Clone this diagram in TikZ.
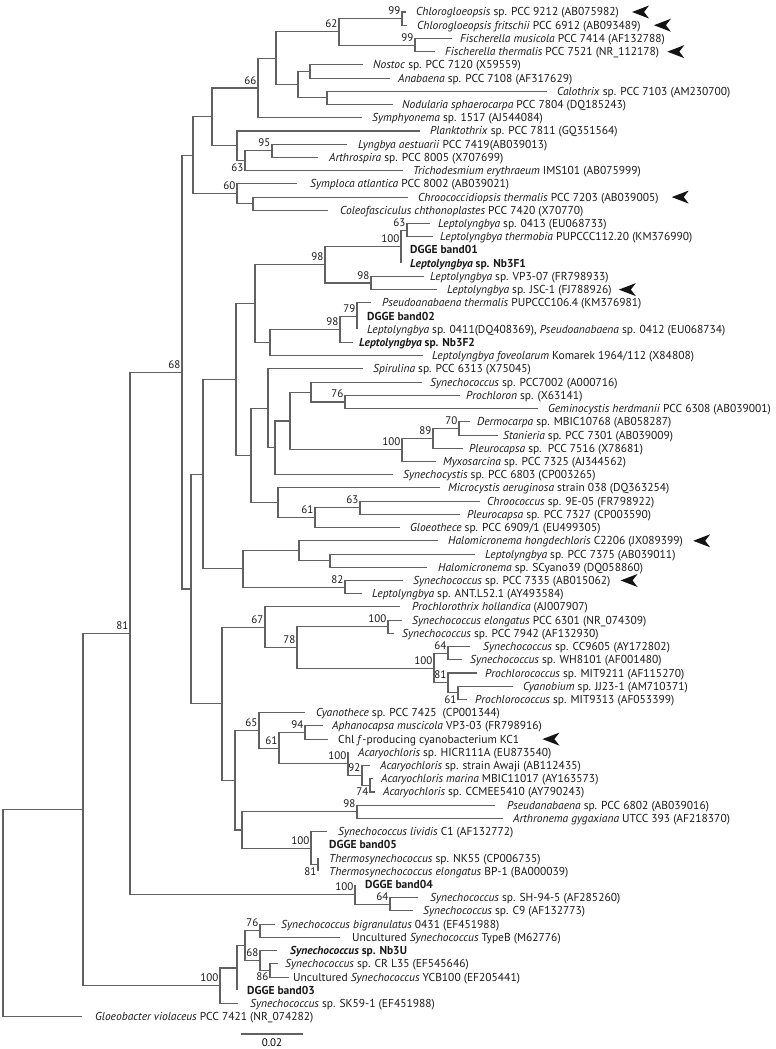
\documentclass[tikz,border=0pt]{standalone}
\usepackage{fontspec}
\setmainfont{PT Sans}
\newcommand{\yy}[1]{12+13.22*(#1-1)}
\tikzset{
  br/.style={draw=black!62, line width=1.05pt},
  leaf/.style={anchor=west, inner sep=0pt, text height=8pt, text depth=0pt, font=\fontsize{11.5}{13}\selectfont, text=black!90},
  bsl/.style={anchor=base east, inner sep=0pt, font=\fontsize{11}{12}\selectfont, text=black!90},
  bsb/.style={anchor=north east, inner sep=0pt, font=\fontsize{11}{12}\selectfont, text=black!90},
  arrowmk/.style={fill=black!92},
}
\newcommand{\nd}[3]{\coordinate (#1) at (#2,{\yy{#3}});}
\newcommand{\lf}[5]{\coordinate (t#1) at (#2,{\yy{#1}});
  \node[leaf] (L#1) at (#3,{\yy{#1}}) {#5};
  \draw[br] (#4) |- (t#1);}
\newcommand{\cn}[2]{\draw[br] (#1) |- (#2);}
\newcommand{\bs}[2]{\node[bsl] (b#1) at ([shift={(-1.5pt,4pt)}]#1) {#2};}
\newcommand{\bb}[2]{\node[bsb] (b#1) at ([shift={(-1.5pt,-2.5pt)}]#1) {#2};}
\newcommand{\arrowhd}[2]{\fill[arrowmk] ([xshift=#2pt]#1.east) -- ++(17pt,6.5pt) -- ++(-5pt,-6.5pt) -- ++(5pt,-6.5pt) -- cycle;}
\begin{document}
\begin{tikzpicture}[x=1pt,y=-1pt]
\useasboundingbox (0,0) rectangle (776,1049);
% internal nodes
\nd{c99a}{402}{1.5}
\nd{c99b}{415}{3.5}
\nd{n62}{339}{2.5}
\nd{nNA}{310}{5.5}
\nd{nCN}{327}{7.5}
\nd{n298}{298}{6.5}
\nd{n276}{276}{4.5}
\nd{n66}{258}{6.75}
\nd{n95}{272}{11.5}
\nd{n63a}{245}{12.25}
\nd{n237}{237}{11.125}
\nd{n212}{212}{8.9375}
\nd{n253}{253}{15.5}
\nd{n60}{237}{14.75}
\nd{n193}{193}{11.84375}
\nd{n63b}{407}{17.5}
\nd{n100a}{401}{18.75}
\nd{n98b}{371}{21.5}
\nd{n98a}{325}{20.125}
\nd{n79}{357}{24}
\nd{n98c}{340}{25}
\nd{n270}{270}{26}
\nd{nA}{255}{23.0625}
\nd{n76a}{345}{30.5}
\nd{n311}{311}{29.75}
\nd{n70}{459}{32.5}
\nd{n89}{433}{33.25}
\nd{n100b}{402}{34.125}
\nd{n290}{290}{31.9375}
\nd{n275}{275}{33.96875}
\nd{n268}{268}{30.984}
\nd{n63c}{360}{38.5}
\nd{n61a}{315}{39.25}
\nd{n278}{278}{38.125}
\nd{n251}{251}{34.555}
\nd{n236}{236}{28.809}
\nd{n330}{330}{42.5}
\nd{n299}{299}{41.75}
\nd{n82}{345}{44.5}
\nd{n243}{243}{43.125}
\nd{n203}{203}{35.967}
\nd{n100c}{388}{47.5}
\nd{n64a}{448}{49.5}
\nd{n61b}{458}{52.5}
\nd{n81b}{448}{51.75}
\nd{n100d}{434}{50.625}
\nd{n78}{297}{49.0625}
\nd{n67}{265}{47.531}
\nd{n94}{305}{55.5}
\nd{n74}{370}{59.5}
\nd{n92}{362}{58.75}
\nd{n100e}{348}{57.875}
\nd{n61c}{279}{56.6875}
\nd{n65}{259}{55.344}
\nd{n98d}{357}{61.5}
\nd{n81c}{318}{65.5}
\nd{n100f}{311}{64.25}
\nd{n242}{242}{62.875}
\nd{n235}{235}{59.109}
\nd{n222}{222}{53.320}
\nd{n191}{191}{44.644}
\nd{n68}{182}{28.244}
\nd{n64b}{390}{68.5}
\nd{n100g}{355}{67.75}
\nd{n81}{130}{47.997}
\nd{n76b}{260}{70.5}
\nd{n86}{270}{73.5}
\nd{n68b}{260}{72.75}
\nd{n245}{245}{71.625}
\nd{n237b}{237}{73.3125}
\nd{n100h}{220}{74.656}
\nd{n83}{83}{61.327}
\nd{root}{3}{69.163}
% internal connectors
\cn{n62}{c99a}\cn{n62}{c99b}
\cn{n298}{nNA}\cn{n298}{nCN}
\cn{n276}{n62}\cn{n276}{n298}
\cn{n66}{n276}
\cn{n63a}{n95}
\cn{n237}{n63a}
\cn{n212}{n66}\cn{n212}{n237}
\cn{n60}{n253}
\cn{n193}{n212}\cn{n193}{n60}
\cn{n100a}{n63b}
\cn{n98a}{n100a}\cn{n98a}{n98b}
\cn{n98c}{n79}
\cn{n270}{n98c}
\cn{nA}{n98a}\cn{nA}{n270}
\cn{n311}{n76a}
\cn{n89}{n70}
\cn{n100b}{n89}
\cn{n290}{n311}\cn{n290}{n100b}
\cn{n275}{n290}
\cn{n268}{n275}
\cn{n61a}{n63c}
\cn{n278}{n61a}
\cn{n251}{n268}\cn{n251}{n278}
\cn{n236}{nA}\cn{n236}{n251}
\cn{n299}{n330}
\cn{n243}{n299}\cn{n243}{n82}
\cn{n203}{n236}\cn{n203}{n243}
\cn{n81b}{n61b}
\cn{n100d}{n64a}\cn{n100d}{n81b}
\cn{n78}{n100c}\cn{n78}{n100d}
\cn{n67}{n78}
\cn{n92}{n74}
\cn{n100e}{n92}
\cn{n61c}{n94}\cn{n61c}{n100e}
\cn{n65}{n61c}
\cn{n100f}{n81c}
\cn{n242}{n98d}\cn{n242}{n100f}
\cn{n235}{n65}\cn{n235}{n242}
\cn{n222}{n67}\cn{n222}{n235}
\cn{n191}{n203}\cn{n191}{n222}
\cn{n68}{n193}\cn{n68}{n191}
\cn{n100g}{n64b}
\cn{n81}{n68}\cn{n81}{n100g}
\cn{n68b}{n86}
\cn{n245}{n76b}\cn{n245}{n68b}
\cn{n237b}{n245}
\cn{n100h}{n237b}
\cn{n83}{n81}\cn{n83}{n100h}
\cn{root}{n83}
% leaves
\lf{1}{406}{416}{c99a}{\textit{Chlorogloeopsis} sp. PCC 9212 (AB075982)}
\lf{2}{407}{417}{c99a}{\textit{Chlorogloeopsis fritschii} PCC 6912 (AB093489)}
\lf{3}{452}{460}{c99b}{\textit{Fischerella musicola} PCC 7414 (AF132788)}
\lf{4}{435}{445}{c99b}{\textit{Fischerella thermalis} PCC 7521 (NR\_112178)}
\lf{5}{363}{373}{nNA}{\textit{Nostoc} sp. PCC 7120 (X59559)}
\lf{6}{390}{398}{nNA}{\textit{Anabaena} sp. PCC 7108 (AF317629)}
\lf{7}{547}{557}{nCN}{\textit{Calothrix} sp. PCC 7103 (AM230700)}
\lf{8}{393}{402}{nCN}{\textit{Nodularia sphaerocarpa} PCC 7804 (DQ185243)}
\lf{9}{362}{372}{n66}{\textit{Symphyonema} sp. 1517 (AJ544084)}
\lf{10}{420}{430}{n237}{\textit{Planktothrix} sp. PCC 7811 (GQ351564)}
\lf{11}{347}{358}{n95}{\textit{Lyngbya aestuarii} PCC 7419(AB039013)}
\lf{12}{318}{329}{n95}{\textit{Arthrospira} sp. PCC 8005 (X707699)}
\lf{13}{403}{413}{n63a}{\textit{Trichodesmium erythraeum} IMS101 (AB075999)}
\lf{14}{297}{310}{n60}{\textit{Symploca atlantica} PCC 8002 (AB039021)}
\lf{15}{408}{418}{n253}{\textit{Chroococcidiopsis thermalis} PCC 7203 (AB039005)}
\lf{16}{328}{340}{n253}{\textit{Coleofasciculus chthonoplastes} PCC 7420 (X70770)}
\lf{17}{430}{438}{n63b}{\textit{Leptolyngbya} sp. 0413 (EU068733)}
\lf{18}{433}{440}{n63b}{\textit{Leptolyngbya thermobia} PUPCCC112.20 (KM376990)}
\lf{19}{401}{410}{n100a}{\textbf{DGGE band01}}
\lf{20}{401}{410}{n100a}{\textbf{\textit{Leptolyngbya} sp. Nb3F1}}
\lf{21}{424}{430}{n98b}{\textit{Leptolyngbya} sp. VP3-07 (FR798933)}
\lf{22}{437}{447}{n98b}{\textit{Leptolyngbya} sp. JSC-1 (FJ788926)}
\lf{23}{371}{382}{n79}{\textit{Pseudoanabaena thermalis} PUPCCC106.4 (KM376981)}
\lf{24}{357}{367}{n79}{\textbf{DGGE band02}}
\lf{25}{357}{367}{n79}{\textit{Leptolyngbya} sp. 0411(DQ408369), \textit{Pseudoanabaena} sp. 0412 (EU068734)}
\lf{26}{353}{359}{n98c}{\textbf{\textit{Leptolyngbya} sp. Nb3F2}}
\lf{27}{423}{432}{n270}{\textit{Leptolyngbya foveolarum} Komarek 1964/112 (X84808)}
\lf{28}{363}{373}{n268}{\textit{Spirulina} sp. PCC 6313 (X75045)}
\lf{29}{422}{430}{n311}{\textit{Synechococcus} sp. PCC7002 (A000716)}
\lf{30}{460}{466}{n76a}{\textit{Prochloron} sp. (X63141)}
\lf{31}{538}{548}{n76a}{\textit{Geminocystis herdmanii} PCC 6308 (AB039001)}
\lf{32}{470}{477}{n70}{\textit{Dermocarpa} sp. MBIC10768 (AB058287)}
\lf{33}{498}{503}{n70}{\textit{Stanieria} sp. PCC 7301 (AB039009)}
\lf{34}{463}{469}{n89}{\textit{Pleurocapsa} sp.\ \ PCC 7516 (X78681)}
\lf{35}{436}{443}{n100b}{\textit{Myxosarcina} sp. PCC 7325 (AJ344562)}
\lf{36}{393}{403}{n275}{\textit{Synechocystis} sp. PCC 6803 (CP003265)}
\lf{37}{440}{448}{n278}{\textit{Microcystis aeruginosa} strain 038 (DQ363254)}
\lf{38}{480}{487}{n63c}{\textit{Chroococcus} sp. 9E-05 (FR798922)}
\lf{39}{460}{467}{n63c}{\textit{Pleurocapsa} sp. PCC 7327 (CP003590)}
\lf{40}{400}{410}{n61a}{\textit{Gloeothece} sp. PCC 6909/1 (EU499305)}
\lf{41}{438}{448}{n299}{\textit{Halomicronema hongdechloris} C2206 (JX089399)}
\lf{42}{475}{485}{n330}{\textit{Leptolyngbya} sp. PCC 7375 (AB039011)}
\lf{43}{427}{438}{n330}{\textit{Halomicronema} sp. SCyano39 (DQ058860)}
\lf{44}{403}{413}{n82}{\textit{Synechococcus} sp. PCC 7335 (AB015062)}
\lf{45}{362}{372}{n82}{\textit{Leptolyngbya} sp. ANT.L52.1 (AY493584)}
\lf{46}{400}{412}{n67}{\textit{Prochlorothrix hollandica} (AJ007907)}
\lf{47}{402}{412}{n100c}{\textit{Synechococcus elongatus} PCC 6301 (NR\_074309)}
\lf{48}{394}{402}{n100c}{\textit{Synechococcus} sp. PCC 7942 (AF132930)}
\lf{49}{470}{483}{n64a}{\textit{Synechococcus} sp. CC9605 (AY172802)}
\lf{50}{462}{470}{n64a}{\textit{Synechococcus} sp. WH8101 (AF001480)}
\lf{51}{477}{485}{n81b}{\textit{Prochlorococcus} sp. MIT9211 (AF115270)}
\lf{52}{513}{523}{n61b}{\textit{Cyanobium} sp. JJ23-1 (AM710371)}
\lf{53}{467}{475}{n61b}{\textit{Prochlorococcus} sp. MIT9313 (AF053399)}
\lf{54}{305}{316}{n65}{\textit{Cyanothece} sp. PCC 7425\ \ (CP001344)}
\lf{55}{323}{332}{n94}{\textit{Aphanocapsa muscicola} VP3-03 (FR798916)}
\lf{56}{328}{338}{n94}{Chl \textit{f}-producing cyanobacterium KC1}
\lf{57}{348}{358}{n100e}{\textit{Acaryochloris} sp. HICR111A (EU873540)}
\lf{58}{370}{380}{n92}{\textit{Acaryochloris} sp. strain Awaji (AB112435)}
\lf{59}{373}{381}{n74}{\textit{Acaryochloris marina} MBIC11017 (AY163573)}
\lf{60}{375}{383}{n74}{\textit{Acaryochloris} sp. CCMEE5410 (AY790243)}
\lf{61}{495}{507}{n98d}{\textit{Pseudanabaena} sp. PCC 6802 (AB039016)}
\lf{62}{503}{513}{n98d}{\textit{Arthronema gygaxiana} UTCC 393 (AF218370)}
\lf{63}{327}{338}{n100f}{\textit{Synechococcus lividis} C1 (AF132772)}
\lf{64}{311}{329}{n100f}{\textbf{DGGE band05}}
\lf{65}{318}{329}{n81c}{\textit{Thermosynechococcus} sp. NK55 (CP006735)}
\lf{66}{318}{329}{n81c}{\textit{Thermosynechococcus elongatus} BP-1 (BA000039)}
\lf{67}{355}{365}{n100g}{\textbf{DGGE band04}}
\lf{68}{418}{430}{n64b}{\textit{Synechococcus} sp. SH-94-5 (AF285260)}
\lf{69}{413}{423}{n64b}{\textit{Synechococcus} sp. C9 (AF132773)}
\lf{70}{275}{281}{n76b}{\textit{Synechococcus bigranulatus} 0431 (EF451988)}
\lf{71}{340}{352}{n76b}{Uncultured \textit{Synechococcus} TypeB (M62776)}
\lf{72}{277}{290}{n68b}{\textbf{\textit{Synechococcus} sp. Nb3U}}
\lf{73}{278}{285}{n86}{\textit{Synechococcus} sp. CR L35 (EF545646)}
\lf{74}{289}{293}{n86}{Uncultured \textit{Synechococcus} YCB100 (EF205441)}
\lf{75}{237}{247}{n237b}{\textbf{DGGE band03}}
\lf{76}{238}{250}{n100h}{\textit{Synechococcus} sp. SK59-1 (EF451988)}
\lf{77}{82}{95}{root}{\textit{Gloeobacter violaceus} PCC 7421 (NR\_074282)}
% bootstrap values
\bs{c99a}{99}\bs{c99b}{99}\bs{n62}{62}\bs{n66}{66}\bs{n95}{95}\bb{n63a}{63}
\bs{n60}{60}\bs{n63b}{63}\bs{n100a}{100}\bs{n98b}{98}\bs{n98a}{98}\bs{n79}{79}
\bs{n98c}{98}\bs{n76a}{76}\bs{n70}{70}\bs{n89}{89}\bs{n100b}{100}\bs{n63c}{63}
\bs{n61a}{61}\bs{n68}{68}\bs{n81}{81}\bs{n82}{82}\bs{n67}{67}\bs{n78}{78}
\bs{n100c}{100}\bs{n64a}{64}\bs{n81b}{81}\bs{n100d}{100}\bb{n61b}{61}
\bs{n65}{65}\bs{n94}{94}\bs{n61c}{61}\bs{n100e}{100}\bs{n92}{92}\bb{n74}{74}
\bs{n98d}{98}\bs{n100f}{100}\bb{n81c}{81}\bs{n100g}{100}\bs{n64b}{64}
\bs{n76b}{76}\bs{n68b}{68}\bb{n86}{86}\bs{n100h}{100}
% arrowheads
\arrowhd{L1}{13}\arrowhd{L2}{13}\arrowhd{L4}{8}\arrowhd{L15}{13}
\arrowhd{L22}{7}\arrowhd{L41}{10}\arrowhd{L44}{10}\arrowhd{L56}{23}
% scale bar
\coordinate (sb1) at (241,1034);
\coordinate (sb2) at (303,1034);
\draw[br] (sb1) -- (sb2) node[midway, anchor=north, inner sep=0pt, yshift=-4pt, font=\fontsize{11}{12}\selectfont] (sbl) {0.02};
\end{tikzpicture}
\end{document}
